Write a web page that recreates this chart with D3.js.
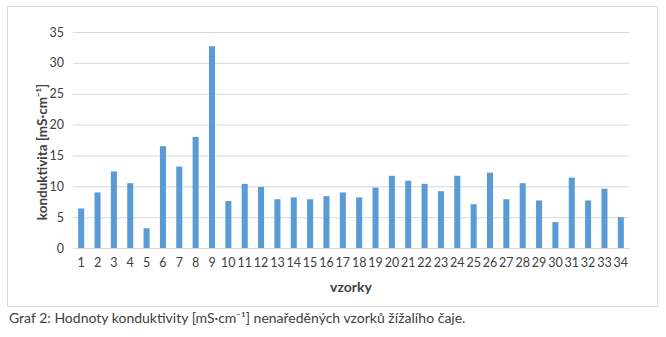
<!DOCTYPE html>
<html>
<head>
<meta charset="utf-8">
<script src="https://cdn.jsdelivr.net/npm/d3@7"></script>
<style>
  body { margin: 0; background: #fff; }
  text { font-family: Lato, "Open Sans", sans-serif; fill: #404040; }
</style>
</head>
<body>
<svg id="chart" width="666" height="337"></svg>
<script>
// data
const samples = d3.range(1, 35).map(String);
const conductivity = [6.4, 9.0, 12.4, 10.5, 3.2, 16.5, 13.2, 18.0, 32.7, 7.6,
  10.4, 9.9, 7.9, 8.2, 7.9, 8.4, 9.0, 8.2, 9.8, 11.7,
  10.9, 10.4, 9.2, 11.7, 7.1, 12.2, 7.9, 10.5, 7.7, 4.2,
  11.4, 7.7, 9.6, 5.0];
const yTicks = [0, 5, 10, 15, 20, 25, 30, 35];

const svg = d3.select('#chart');
const margin = { top: 32, left: 73, right: 37, bottom: 89 };
const width = 666 - margin.left - margin.right;
const height = 337 - margin.top - margin.bottom;

// frame
svg.append('rect')
    .attr('x', 7.5).attr('y', 6.5)
    .attr('width', 650).attr('height', 300)
    .attr('fill', '#fff')
    .attr('stroke', '#d9d9d9');

const g = svg.append('g')
    .attr('transform', `translate(${margin.left},${margin.top})`);

const x = d3.scaleBand()
    .domain(samples)
    .range([0, width])
    .paddingInner(0.63)
    .paddingOuter(0.315);

const y = d3.scaleLinear()
    .domain([0, 35])
    .range([height, 0]);

// gridlines + y labels
const yAxis = g.append('g')
    .call(d3.axisLeft(y).tickValues(yTicks).tickSize(-width).tickPadding(9));
yAxis.select('.domain').remove();
yAxis.selectAll('line').attr('stroke', '#d9d9d9');
yAxis.selectAll('text').style('font-size', '12.5px').attr('fill', '#595959');

// bars
g.selectAll('.bar')
    .data(conductivity)
    .enter().append('rect')
    .attr('class', 'bar')
    .attr('x', (d, i) => x(samples[i]))
    .attr('width', x.bandwidth())
    .attr('y', d => y(d))
    .attr('height', d => height - y(d))
    .attr('fill', '#5b9bd5');

// x axis
const xAxis = g.append('g')
    .attr('transform', `translate(0,${height})`)
    .call(d3.axisBottom(x).tickSize(0).tickPadding(10));
xAxis.select('.domain').attr('stroke', '#d9d9d9');
xAxis.selectAll('text').style('font-size', '12.5px').attr('fill', '#595959');

// axis titles
svg.append('text')
    .attr('transform', `translate(47,152) rotate(-90)`)
    .attr('text-anchor', 'middle')
    .style('font-size', '13.5px')
    .style('font-weight', 'bold')
    .attr('fill', '#000')
    .text('konduktivita [mS·cm⁻¹]');

svg.append('text')
    .attr('x', margin.left + width / 2)
    .attr('y', 292)
    .attr('text-anchor', 'middle')
    .style('font-size', '14px')
    .style('font-weight', 'bold')
    .attr('fill', '#000')
    .text('vzorky');

// caption
svg.append('text')
    .attr('x', 9)
    .attr('y', 323)
    .style('font-size', '14px')
    .attr('fill', '#000')
    .text('Graf 2: Hodnoty konduktivity [mS·cm⁻¹] nenaředěných vzorků žížalího čaje.');
</script>
</body>
</html>
